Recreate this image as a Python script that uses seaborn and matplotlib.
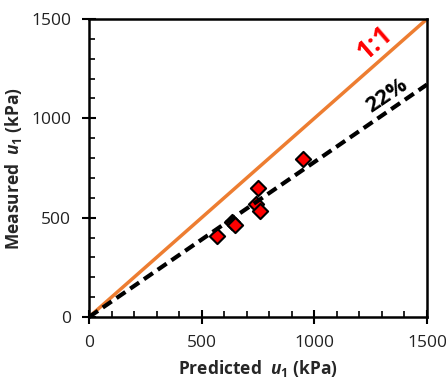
import numpy as np
import pandas as pd
import matplotlib

matplotlib.use("Agg")

import matplotlib.pyplot as plt
import seaborn as sns
from matplotlib.ticker import MultipleLocator

# measured vs predicted u1 (kPa)
predicted = [567, 633, 648, 741, 751, 759, 948]
measured = [408, 480, 463, 567, 648, 535, 793]

line_x = [0, 1500]
one_to_one = [0, 1500]
ratio_22 = 0.78  # measured is ~22% below predicted
fit_22 = [v * ratio_22 for v in line_x]

sns.set_theme(style="white")
plt.rcParams["font.family"] = ["Open Sans", "DejaVu Sans"]
plt.rcParams["mathtext.fontset"] = "custom"
plt.rcParams["mathtext.it"] = "Open Sans:italic:bold"
plt.rcParams["mathtext.rm"] = "Open Sans:bold"

df_pts = pd.DataFrame({"predicted": predicted, "measured": measured})
df_lines = pd.DataFrame({"x": line_x, "one": one_to_one, "fit": fit_22})

fig = plt.figure(figsize=(4.46, 3.79), dpi=100)
ax = fig.add_axes([0.1996, 0.1636, 0.7578, 0.7863])

sns.lineplot(data=df_lines, x="x", y="one", color="#ED7D31", linewidth=2.5, ax=ax, zorder=2)
sns.scatterplot(data=df_pts, x="predicted", y="measured", marker="D", s=60,
                color="#FF0000", edgecolor="black", linewidth=1.5, ax=ax, zorder=3)
sns.lineplot(data=df_lines, x="x", y="fit", color="black", linewidth=3,
             linestyle=(0, (2.6, 1.4)), ax=ax, zorder=4)

ax.set_xlim(0, 1500)
ax.set_ylim(0, 1500)
ax.xaxis.set_major_locator(MultipleLocator(500))
ax.yaxis.set_major_locator(MultipleLocator(500))
ax.xaxis.set_minor_locator(MultipleLocator(100))
ax.yaxis.set_minor_locator(MultipleLocator(100))
ax.tick_params(which="major", direction="inout", length=10, width=1.5,
               labelsize=12.5, colors="black", pad=8)
ax.tick_params(which="minor", direction="in", length=4, width=1.2, colors="black")
ax.tick_params(axis="both", labelcolor="#222222")
ax.tick_params(which="both", bottom=True, left=True, top=False, right=False)

for side in ["left", "bottom", "right", "top"]:
    ax.spines[side].set_color("black")
    ax.spines[side].set_linewidth(1.8)

ax.set_xlabel(r"Predicted  $u_1$ (kPa)", fontsize=12.5, fontweight="bold", labelpad=5)
ax.set_ylabel(r"Measured  $u_1$ (kPa)", fontsize=12.5, fontweight="bold", labelpad=5)

ax.text(1268, 1380, "1:1", color="#FF0000", fontsize=19, fontweight="bold",
        rotation=41, ha="center", va="center")
ax.text(1320, 1112, "22%", color="black", fontsize=16, fontweight="bold",
        rotation=34, ha="center", va="center")

fig.savefig("out.png", dpi=100)
